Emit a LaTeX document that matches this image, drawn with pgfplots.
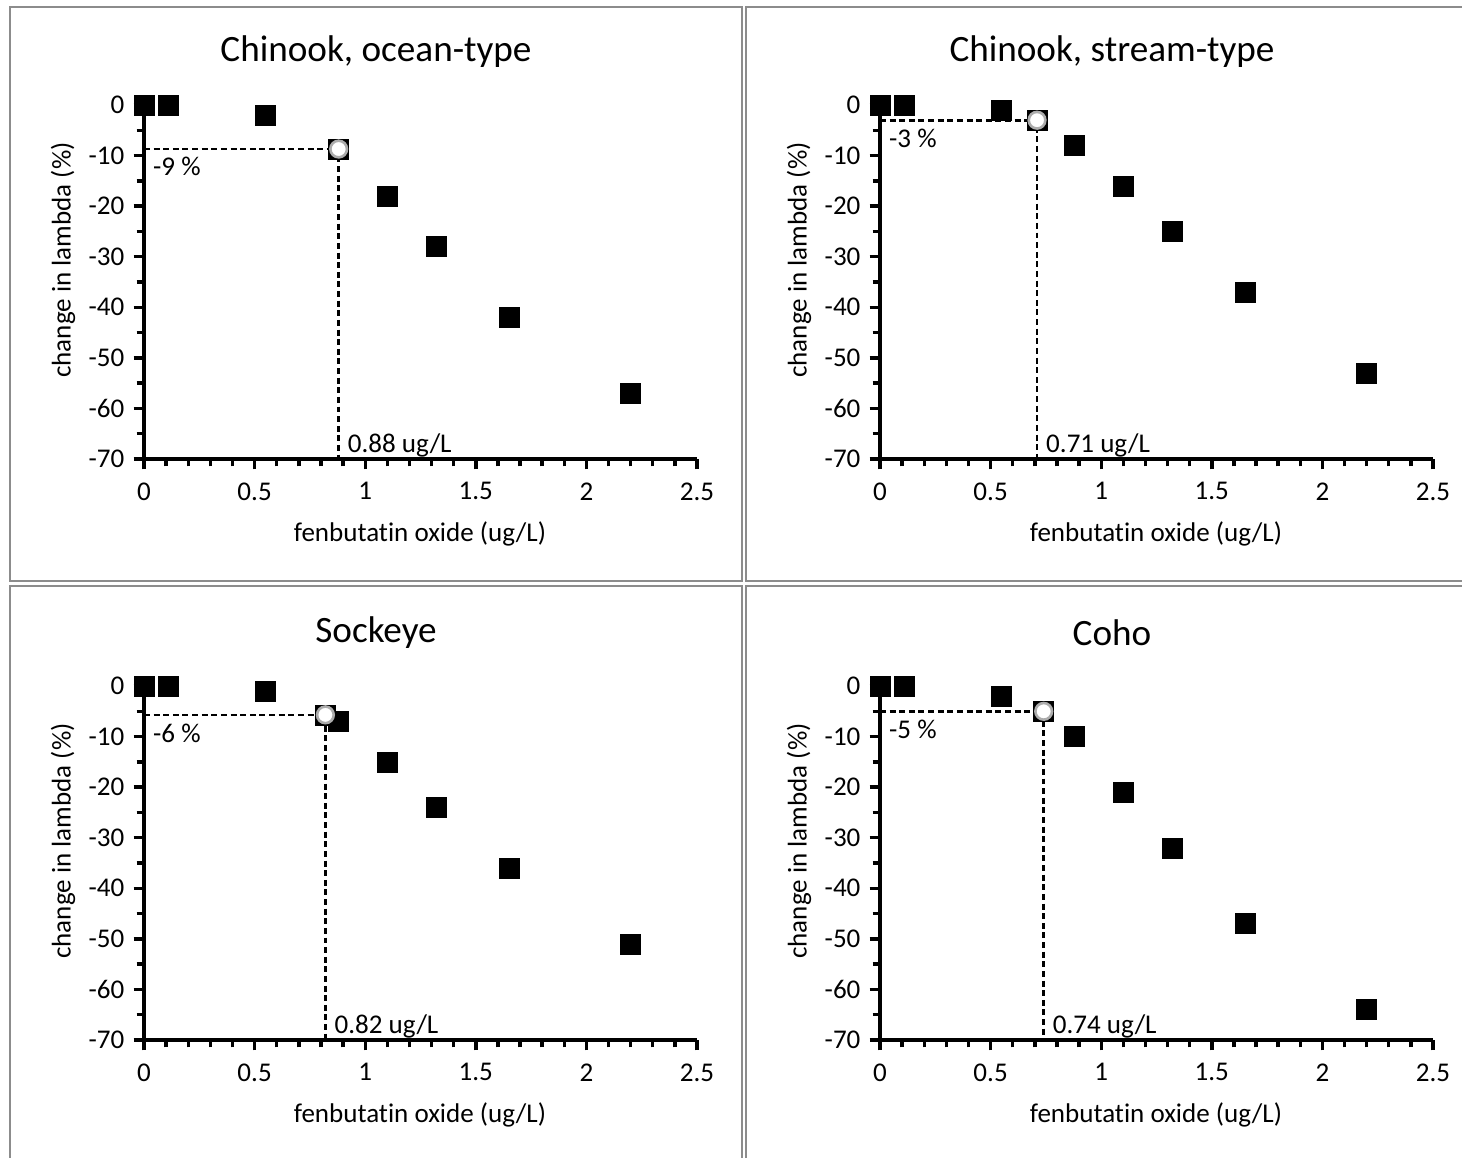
\documentclass[border=0pt]{standalone}
\usepackage{pgfplots}
\pgfplotsset{compat=1.18}
\usepackage{fontspec}
\setmainfont{Carlito}[Ligatures={NoCommon}]

\newcommand{\fs}{\fontsize{10.4}{12.5}\selectfont}
\newcommand{\ft}{\fontsize{14.3}{17}\selectfont}

\pgfplotsset{
  panel/.style={
    scale only axis, width=212.7pt, height=136.15pt,
    anchor=south west,
    xmin=0, xmax=2.5, ymin=-70, ymax=0,
    axis lines*=left,
    axis line style={line width=1.3pt, black},
    xtick={0,0.5,1,1.5,2,2.5},
    ytick={-70,-60,-50,-40,-30,-20,-10,0},
    minor x tick num=4, minor y tick num=1,
    tick align=outside,
    major tick length=4pt, minor tick length=2.8pt,
    major tick style={line width=1.3pt, black},
    minor tick style={line width=1.3pt, black},
    tick label style={font=\fs},
    xticklabel style={yshift=-1.5pt},
    /pgf/number format/assume math mode=true,
    clip=false,
  },
  sq/.style={only marks, mark=square*, mark size=3.85pt, mark options={fill=black, draw=black, line width=0.2pt}},
  ci/.style={only marks, mark=*, mark size=3.2pt, mark options={fill=white, draw=gray!65, line width=1pt}},
  dl/.style={black, line width=1pt, dash pattern=on 2.3pt off 1.4pt, no marks},
}

\begin{document}
\begin{tikzpicture}
\path[use as bounding box] (0,0) rectangle (562.31pt,-445.38pt);
\begin{scope}[x=0.38462pt,y=-0.38462pt]
  \draw[color=black!45, line width=0.77pt] (10,7) rectangle (742,581);
  \draw[color=black!45, line width=0.77pt] (746,7) rectangle (1480,581);
  \draw[color=black!45, line width=0.77pt] (10,586) rectangle (742,1180);
  \draw[color=black!45, line width=0.77pt] (746,586) rectangle (1480,1180);
  \coordinate (A) at (144,459);
  \coordinate (B) at (880,459);
  \coordinate (C) at (144,1040);
  \coordinate (D) at (880,1040);
  % titles
  \node[font=\ft] at (376,52) {Chinook, ocean-type};
  \node[font=\ft] at (1112,52) {Chinook, stream-type};
  \node[font=\ft] at (376,633) {Sockeye};
  \node[font=\ft] at (1112,633) {Coho};
  % x labels
  \node[font=\fs] at (420,534) {fenbutatin oxide (ug/L)};
  \node[font=\fs] at (1156,534) {fenbutatin oxide (ug/L)};
  \node[font=\fs] at (420,1115) {fenbutatin oxide (ug/L)};
  \node[font=\fs] at (1156,1115) {fenbutatin oxide (ug/L)};
  % y labels
  \node[font=\fs, rotate=90] at (63,260) {change in lambda (\%)};
  \node[font=\fs, rotate=90] at (799,260) {change in lambda (\%)};
  \node[font=\fs, rotate=90] at (63,841) {change in lambda (\%)};
  \node[font=\fs, rotate=90] at (799,841) {change in lambda (\%)};
\end{scope}

% Chinook, ocean-type
\begin{axis}[panel, at={(A)}]
  \addplot[dl] coordinates {(0,-8.7) (0.88,-8.7) (0.88,-70)};
  \addplot[sq] coordinates {(0,0) (0.11,0) (0.55,-2) (0.88,-8.7) (1.1,-18) (1.32,-28) (1.65,-42) (2.2,-57)};
  \addplot[ci] coordinates {(0.88,-8.7)};
  \node[anchor=west, font=\fs, xshift=0pt] at (axis cs:0,-12.2) {-9 \%};
  \node[anchor=west, font=\fs, xshift=0pt] at (axis cs:0.88,-67.3) {0.88 ug/L};
\end{axis}

% Chinook, stream-type
\begin{axis}[panel, at={(B)}]
  \addplot[dl] coordinates {(0,-3) (0.71,-3) (0.71,-70)};
  \addplot[sq] coordinates {(0,0) (0.11,0) (0.55,-1) (0.71,-3) (0.88,-8) (1.1,-16) (1.32,-25) (1.65,-37) (2.2,-53)};
  \addplot[ci] coordinates {(0.71,-3)};
  \node[anchor=west, font=\fs, xshift=0pt] at (axis cs:0,-6.6) {-3 \%};
  \node[anchor=west, font=\fs, xshift=0pt] at (axis cs:0.71,-67.3) {0.71 ug/L};
\end{axis}

% Sockeye
\begin{axis}[panel, at={(C)}]
  \addplot[dl] coordinates {(0,-5.7) (0.82,-5.7) (0.82,-70)};
  \addplot[sq] coordinates {(0,0) (0.11,0) (0.55,-1) (0.82,-5.7) (0.88,-7) (1.1,-15) (1.32,-24) (1.65,-36) (2.2,-51)};
  \addplot[ci] coordinates {(0.82,-5.7)};
  \node[anchor=west, font=\fs, xshift=0pt] at (axis cs:0,-9.3) {-6 \%};
  \node[anchor=west, font=\fs, xshift=0pt] at (axis cs:0.82,-67.3) {0.82 ug/L};
\end{axis}

% Coho
\begin{axis}[panel, at={(D)}]
  \addplot[dl] coordinates {(0,-5) (0.74,-5) (0.74,-70)};
  \addplot[sq] coordinates {(0,0) (0.11,0) (0.55,-2) (0.74,-5) (0.88,-10) (1.1,-21) (1.32,-32) (1.65,-47) (2.2,-64)};
  \addplot[ci] coordinates {(0.74,-5)};
  \node[anchor=west, font=\fs, xshift=0pt] at (axis cs:0,-8.6) {-5 \%};
  \node[anchor=west, font=\fs, xshift=0pt] at (axis cs:0.74,-67.3) {0.74 ug/L};
\end{axis}
\end{tikzpicture}
\end{document}
